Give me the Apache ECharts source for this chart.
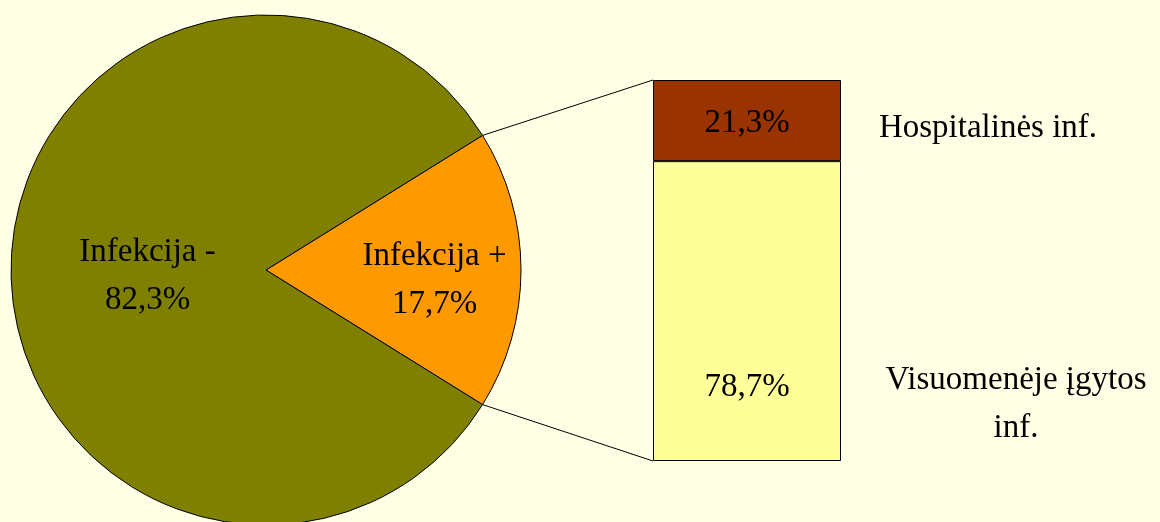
<!DOCTYPE html>
<html>
<head>
<meta charset="utf-8">
<script src="https://cdn.jsdelivr.net/npm/echarts@6/dist/echarts.min.js"></script>
<style>
  html, body { margin: 0; padding: 0; background: #ffffe5; }
  #chart { width: 1160px; height: 522px; }
</style>
</head>
<body>
<div id="chart"></div>
<script>
// pie: infekcija +/- ; bar: breakdown of "Infekcija +"
const pieNames = ["Infekcija +", "Infekcija -"];
const pieValues = [17.7, 82.3];
const pieColors = ["#ff9900", "#808000"];
const barNames = ["Visuomenėje įgytos\ninf.", "Hospitalinės inf."];
const barValues = [78.7, 21.3];
const barColors = ["#ffff99", "#993300"];

const FONT = "Liberation Serif";
const pct = (v) => String(v).replace(".", ",") + "%";

const cx = 266, cy = 270, r = 255;
const half = (pieValues[0] / 100) * 180; // half angle of "Infekcija +" slice

const chart = echarts.init(document.getElementById("chart"), null, { renderer: "canvas" });

const option = {
  backgroundColor: "#ffffe5",
  animation: false,
  textStyle: { fontFamily: FONT },
  grid: { left: 653, top: 80, width: 188, height: 381 },
  xAxis: { type: "category", data: [""], show: false },
  yAxis: { type: "value", min: 0, max: 100, show: false },
  series: [
    {
      type: "pie",
      center: [cx, cy],
      radius: r,
      startAngle: half,
      clockwise: true,
      silent: true,
      itemStyle: { borderColor: "#000", borderWidth: 1 },
      label: {
        position: "inside",
        color: "#000",
        fontSize: 33,
        lineHeight: 48,
        fontFamily: FONT,
        formatter: (p) => p.name + "\n" + pct(p.value),
      },
      // index 0 = orange slice, index 1 = olive slice
      labelLayout: (p) => (p.dataIndex === 0 ? { dx: 19, dy: 5 } : { dx: 6, dy: 3 }),
      data: pieNames.map((n, i) => ({ name: n, value: pieValues[i], itemStyle: { color: pieColors[i] } })),
    },
    ...barNames.map((n, i) => ({
      type: "bar",
      name: n,
      stack: "inf",
      barWidth: "100%",
      silent: true,
      itemStyle: { color: barColors[i], borderColor: "#000", borderWidth: 1 },
      label: {
        show: true,
        position: "inside",
        color: "#000",
        fontSize: 33,
        fontFamily: FONT,
        offset: i === 0 ? [0, 76] : [0, 3],
        formatter: (p) => pct(p.value),
      },
      data: [barValues[i]],
    })),
  ],
};
chart.setOption(option);

// connector lines from the slice edges to the bar corners
const rad = (half * Math.PI) / 180;
const ex = cx + r * Math.cos(rad);
const barTop = chart.convertToPixel({ yAxisIndex: 0 }, 100);
const barBottom = chart.convertToPixel({ yAxisIndex: 0 }, 0);
const barLeft = 653;

chart.setOption({
  graphic: [
    { type: "line", z: 10, shape: { x1: ex, y1: cy - r * Math.sin(rad), x2: barLeft, y2: barTop }, style: { stroke: "#000", lineWidth: 1 } },
    { type: "line", z: 10, shape: { x1: ex, y1: cy + r * Math.sin(rad), x2: barLeft, y2: barBottom }, style: { stroke: "#000", lineWidth: 1 } },
    { type: "text", x: 988, y: 128, style: { text: barNames[1], fill: "#000", fontSize: 33, fontFamily: FONT, align: "center", verticalAlign: "middle" } },
    { type: "text", x: 1016, y: 404, style: { text: barNames[0], fill: "#000", fontSize: 33, fontFamily: FONT, lineHeight: 48, align: "center", verticalAlign: "middle" } },
  ],
});
</script>
</body>
</html>
